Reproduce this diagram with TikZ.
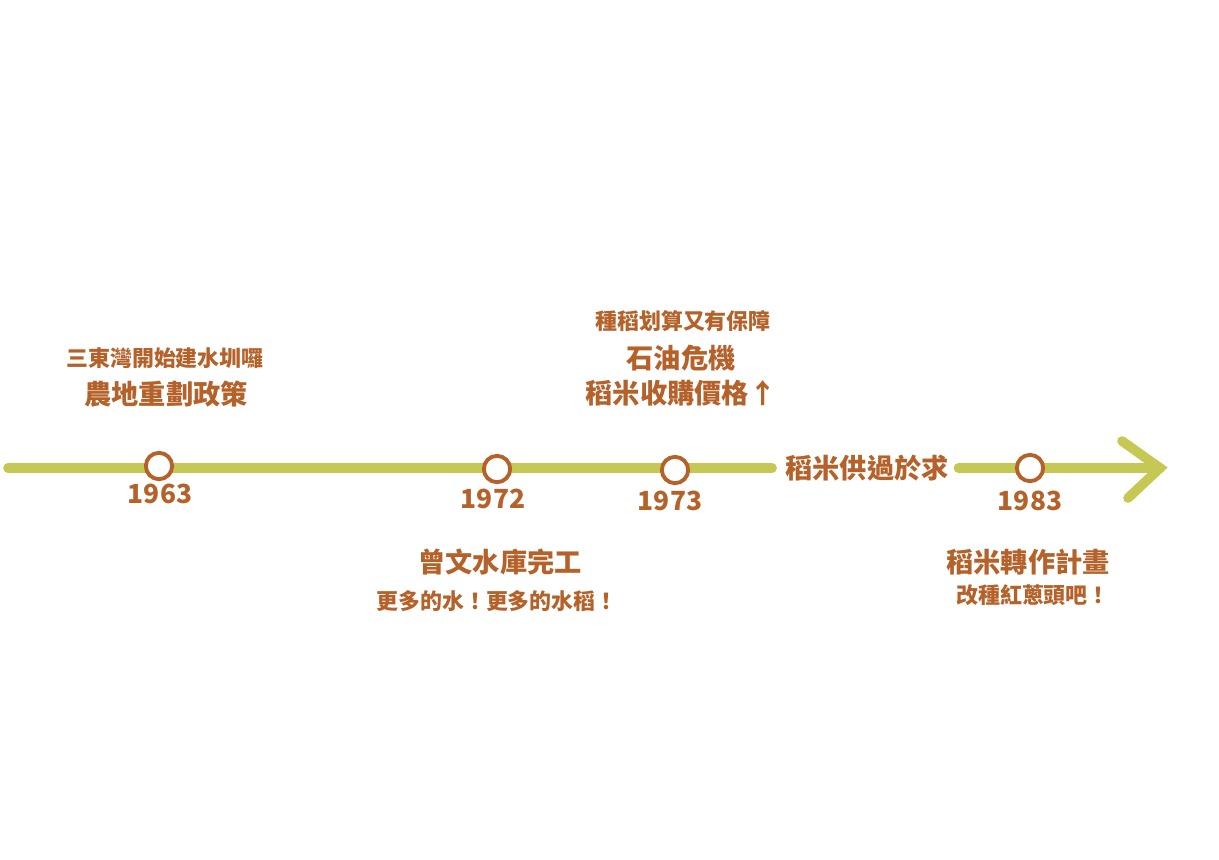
\documentclass[tikz,border=0pt]{standalone}
\usepackage{fontspec}
\newfontfamily\cjk{Noto Sans CJK TC}
\usetikzlibrary{positioning}
\definecolor{mRust}{HTML}{B5622A}
\definecolor{mOlive}{HTML}{C5C853}

\begin{document}
\begin{tikzpicture}[x=0.02cm, y=-0.02cm,
      axis/.style={draw=mOlive, line width=5.5pt, line cap=round},
      yr/.style={draw=mRust, fill=white, circle, line width=2.2pt, minimum size=15pt, inner sep=0pt},
      yl/.style={text=mRust, font=\cjk\bfseries\fontsize{15}{17}\selectfont},
      big/.style={text=mRust, font=\cjk\bfseries\fontsize{15.5}{18}\selectfont},
      small/.style={text=mRust, font=\cjk\bfseries\fontsize{12.5}{15}\selectfont}]
    \useasboundingbox (0,0) rectangle (1219,859);
    % timeline
    \coordinate (start) at (8,468);
    \coordinate (tip)   at (1160,468);
    \coordinate (armA)  at (1122,441);
    \coordinate (armB)  at (1128,498);
    \node[big] (glut) at (867,468) {稻米供過於求};
    \draw[axis] (start) -- ([xshift=-4pt]glut.west);
    \draw[axis] ([xshift=2pt]glut.east) -- (tip);
    \draw[axis] (armA) -- (tip) -- (armB);
    \node[yr] (c63) at (159,466) {};
    \node[yr] (c72) at (497,469) {};
    \node[yr] (c73) at (675,470) {};
    \node[yr] (c83) at (1030,468) {};
    % years
    \node[yl] (y63) at (160,494) {1963};
    \node[yl] (y72) at (493,499) {1972};
    \node[yl] (y73) at (670,501) {1973};
    \node[yl] (y83) at (1030,501) {1983};
    % events
    \node[small] (e63a) at (165,358) {三東灣開始建水圳囉};
    \node[big]   (e63b) at (166,394) {農地重劃政策};
    \node[small] (e73a) at (683,321) {種稻划算又有保障};
    \node[big]   (e73b) at (681,358) {石油危機};
    \node[big]   (e73c) at (681,393) {稻米收購價格↑};
    \node[big]   (e72a) at (500,562) {曾文水庫完工};
    \node[small] (e72b) at (497,601) {更多的水！更多的水稻！};
    \node[big]   (e83a) at (1028,562) {稻米轉作計畫};
    \node[small] (e83b) at (1033,595) {改種紅蔥頭吧！};
  \end{tikzpicture}
\end{document}
